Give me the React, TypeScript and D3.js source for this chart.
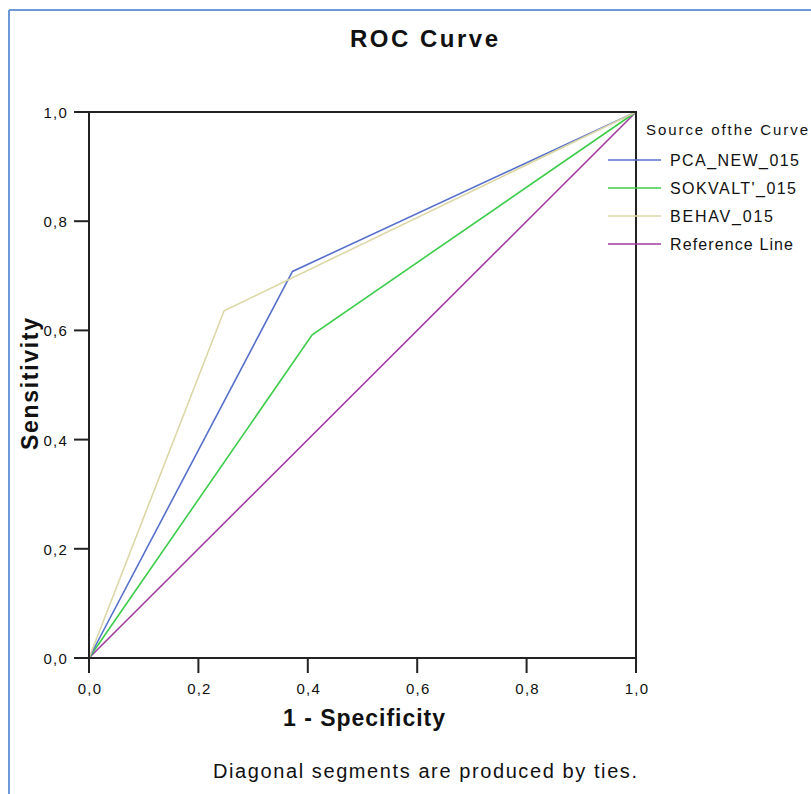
import React from 'react'
import * as d3 from 'd3'

// ROC curve points (1 - specificity, sensitivity)
const pcaX = [0, 0.372, 1]
const pcaY = [0, 0.708, 1]
const sokX = [0, 0.408, 1]
const sokY = [0, 0.592, 1]
const behX = [0, 0.247, 1]
const behY = [0, 0.636, 1]
const refX = [0, 1]
const refY = [0, 1]

const seriesNames = ['PCA_NEW_015', "SOKVALT'_015", 'BEHAV_015', 'Reference Line']
const seriesColors = ['#5670cc', '#3dcc4a', '#dcd7a6', '#a03ea2']
const ticks = [0, 0.2, 0.4, 0.6, 0.8, 1.0]

const W = 811, H = 794
const margin = { left: 89, right: 175, top: 112, bottom: 136 }

const App = () => {
  const x = d3.scaleLinear().domain([0, 1]).range([margin.left, W - margin.right])
  const y = d3.scaleLinear().domain([0, 1]).range([H - margin.bottom, margin.top])
  const line = d3.line<[number, number]>().x(d => x(d[0])).y(d => y(d[1]))
  const fmt = (v: number) => d3.format('.1f')(v).replace('.', ',')

  const curves = [
    { xs: pcaX, ys: pcaY },
    { xs: sokX, ys: sokY },
    { xs: behX, ys: behY },
    { xs: refX, ys: refY },
  ]
  // draw order: reference, sokvalt, pca, behav
  const order = [3, 1, 0, 2]
  const font = 'Liberation Sans, Arial, sans-serif'

  return (
    <svg width={W} height={H} style={{ position: 'absolute', left: 0, top: 0, background: '#fff' }}
      fontFamily={font}>
      <rect x={0} y={0} width={W} height={H} fill="#fff" />
      {/* outer frame */}
      <line x1={9} y1={10} x2={W} y2={10} stroke="#6d9ad6" strokeWidth={2} />
      <line x1={9} y1={10} x2={9} y2={H} stroke="#6d9ad6" strokeWidth={2} />

      <text x={424} y={47} textAnchor="middle" fontSize={24} fontWeight="bold" fill="#111"
        textLength={148} lengthAdjust="spacing">ROC Curve</text>

      {order.map(i => (
        <path key={i}
          d={line(curves[i].xs.map((v, j) => [v, curves[i].ys[j]] as [number, number])) || ''}
          fill="none" stroke={seriesColors[i]} strokeWidth={1.6} />
      ))}

      {/* plot box */}
      <rect x={x(0)} y={y(1)} width={x(1) - x(0)} height={y(0) - y(1)} fill="none" stroke="#222" strokeWidth={2} />

      {ticks.map(t => (
        <g key={'y' + t}>
          <line x1={x(0) - 15} x2={x(0)} y1={y(t)} y2={y(t)} stroke="#222" strokeWidth={2} />
          <text x={x(0) - 21} y={y(t) + 6} textAnchor="end" fontSize={15} fill="#111" letterSpacing={1.2}>{fmt(t)}</text>
        </g>
      ))}
      {ticks.map(t => (
        <g key={'x' + t}>
          <line x1={x(t)} x2={x(t)} y1={y(0)} y2={y(0) + 15} stroke="#222" strokeWidth={2} />
          <text x={x(t) + 1} y={y(0) + 36} textAnchor="middle" fontSize={15} fill="#111" letterSpacing={1.2}>{fmt(t)}</text>
        </g>
      ))}

      <text x={364} y={726} textAnchor="middle" fontSize={23} fontWeight="bold" fill="#111"
        textLength={162} lengthAdjust="spacing">1 - Specificity</text>
      <text transform="translate(38,384) rotate(-90)" textAnchor="middle" fontSize={23} fontWeight="bold" fill="#111"
        textLength={132} lengthAdjust="spacing">Sensitivity</text>

      <text x={646} y={135} fontSize={15} fill="#111" textLength={162} lengthAdjust="spacing">Source ofthe Curve</text>
      {seriesNames.map((n, i) => {
        const ly = 160 + i * 28
        return (
          <g key={n}>
            <line x1={608} x2={661} y1={ly} y2={ly} stroke={seriesColors[i]} strokeWidth={1.6} />
            <text x={670} y={ly + 6} fontSize={16} fill="#111" textLength={[129, 126, 103, 123][i]} lengthAdjust="spacing">{n}</text>
          </g>
        )
      })}

      <text x={425} y={778} textAnchor="middle" fontSize={20} fill="#111" textLength={424} lengthAdjust="spacing">Diagonal segments are produced by ties.</text>
    </svg>
  )
}

export default App
